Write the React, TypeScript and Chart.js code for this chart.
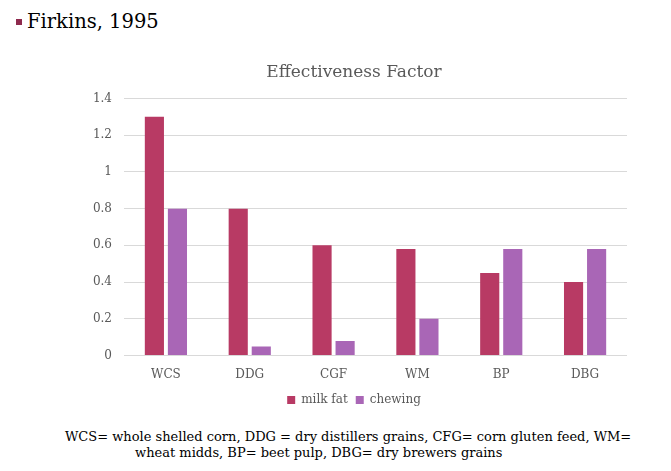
import React, { useEffect, useRef } from "react";
import { Chart, registerables } from "chart.js";

Chart.register(...registerables);

const categories = ["WCS", "DDG", "CGF", "WM", "BP", "DBG"];
const milkFat = [1.3, 0.8, 0.6, 0.58, 0.45, 0.4];
const chewing = [0.8, 0.05, 0.08, 0.2, 0.58, 0.58];
const seriesNames = ["milk fat", "chewing"];
const chartTitle = "Effectiveness Factor";
const heading = "Firkins, 1995";
const footLine1 = "WCS= whole shelled corn, DDG = dry distillers grains, CFG= corn gluten feed, WM=";
const footLine2 = "wheat midds, BP= beet pulp, DBG= dry brewers grains";

const FONT = "'DejaVu Serif', serif";
const GREY = "#595959";

export default function App() {
  const ref = useRef<HTMLCanvasElement | null>(null);

  useEffect(() => {
    if (!ref.current) return;
    const chart = new Chart(ref.current, {
      type: "bar",
      data: {
        labels: categories,
        datasets: [
          { label: seriesNames[0], data: milkFat, backgroundColor: "#B83A64", borderWidth: 0 },
          { label: seriesNames[1], data: chewing, backgroundColor: "#A966B6", borderWidth: 0 },
        ],
      },
      options: {
        animation: false,
        responsive: false,
        maintainAspectRatio: false,
        layout: { padding: { left: 0, right: 0, top: 0, bottom: 2 } },
        datasets: { bar: { categoryPercentage: 0.55, barPercentage: 0.83 } },
        plugins: {
          title: {
            display: true,
            text: chartTitle,
            color: GREY,
            font: { family: FONT, size: 17, weight: "normal" },
            padding: { top: 14, bottom: 16 },
          },
          legend: {
            position: "bottom",
            labels: {
              color: GREY,
              font: { family: FONT, size: 12 },
              boxWidth: 8,
              boxHeight: 8,
              padding: 8,
            },
          },
          tooltip: { enabled: false },
        },
        scales: {
          x: {
            grid: { display: false },
            border: { color: "#D9D9D9" },
            ticks: { color: GREY, font: { family: FONT, size: 12 }, padding: 4 },
          },
          y: {
            min: 0,
            max: 1.4,
            ticks: {
              stepSize: 0.2,
              color: GREY,
              font: { family: FONT, size: 12 },
              padding: 12,
              callback: (v: any) => String(Math.round(Number(v) * 10) / 10),
            },
            grid: { color: "#D9D9D9", drawTicks: false },
            border: { display: false },
            afterFit: (s: any) => {
              s.width = 43;
            },
          },
        },
      },
    });
    return () => chart.destroy();
  }, []);

  return (
    <div style={{ position: "absolute", left: 0, top: 0, width: 671, height: 471, background: "#fff", overflow: "hidden" }}>
      <div style={{ position: "absolute", left: 16, top: 19, width: 6, height: 6, background: "#8E2A4E" }} />
      <div style={{ position: "absolute", left: 27, top: 8, fontFamily: FONT, fontSize: 19.5, color: "#000", whiteSpace: "nowrap", lineHeight: "28px" }}>
        {heading}
      </div>
      <canvas ref={ref} width={546} height={370} style={{ position: "absolute", left: 81, top: 48, width: 546, height: 370 }} />
      <div style={{ position: "absolute", left: 65, top: 428, fontFamily: FONT, fontSize: 13, color: "#000", whiteSpace: "nowrap", lineHeight: "18px" }}>
        {footLine1}
      </div>
      <div style={{ position: "absolute", left: 135, top: 444, fontFamily: FONT, fontSize: 13, color: "#000", whiteSpace: "nowrap", lineHeight: "18px" }}>
        {footLine2}
      </div>
    </div>
  );
}
